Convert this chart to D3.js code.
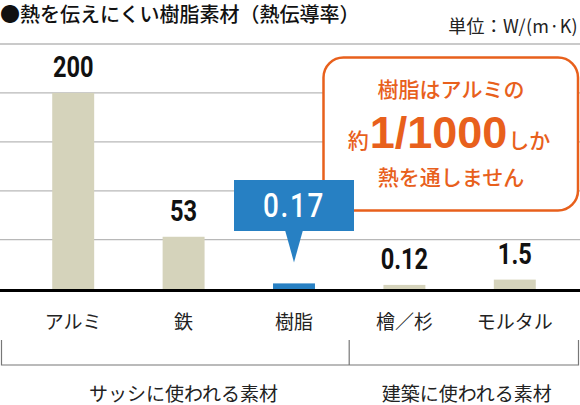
<!DOCTYPE html>
<html>
<head>
<meta charset="utf-8">
<script src="https://cdn.jsdelivr.net/npm/d3@7"></script>
<style>
  body { margin: 0; background: #fff; }
  text { font-family: "Noto Sans CJK JP", "Noto Sans", sans-serif; }
  .num { font-family: "Roboto", "Liberation Sans", sans-serif; font-weight: bold; }
</style>
</head>
<body>
<div id="graph-section"></div>
<script>
// chart data
const categories = ["アルミ", "鉄", "樹脂", "檜／杉", "モルタル"];
const values = [200, 53, 0.17, 0.12, 1.5];
const valueLabels = ["200", "53", "0.17", "0.12", "1.5"];
const highlight = "樹脂";
const yTicks = [50, 100, 150, 200, 250];
const groupNames = ["サッシに使われる素材", "建築に使われる素材"];
const groupSizes = [3, 2];
const titleText = "●熱を伝えにくい樹脂素材（熱伝導率）";
const unitText = "単位：W/(m·K)";
const noteLines = ["樹脂はアルミの", "熱を通しません"];
const notePieces = ["約", "1/1000", "しか"];

let svgWidth = 580;
let svgHeight = 405;
let baseY = 289;

let beige = "#d5d3bb";
let blue = "#2780c3";
let orange = "#e8601c";

let svg = d3.select("#graph-section")
    .append("svg")
    .attr("width", svgWidth)
    .attr("height", svgHeight);

let rows = categories.map((c, i) => ({ name: c, value: values[i], label: valueLabels[i] }));

let x = d3.scaleBand()
    .domain(categories)
    .range([18, 570])
    .paddingInner(0.62)
    .paddingOuter(0.31);

// low end is stretched so the tiny values stay visible
let y = d3.scaleLinear()
    .domain([0, 0.1, 0.2, 2, 50, 250])
    .range([baseY, baseY - 3.5, baseY - 6.5, baseY - 10.5, baseY - 49.3, 44]);

// gridlines
svg.append("g")
    .selectAll("line")
    .data(yTicks)
    .enter().append("line")
    .attr("x1", 0)
    .attr("x2", svgWidth)
    .attr("y1", d => y(d))
    .attr("y2", d => y(d))
    .style("stroke", "#b8b8b8")
    .style("stroke-width", 1.3);

// orange note box
let note = svg.append("g");
note.append("rect")
    .attr("x", 323.5)
    .attr("y", 57.5)
    .attr("width", 254.5)
    .attr("height", 153)
    .attr("rx", 20)
    .style("fill", "#fff")
    .style("stroke", orange)
    .style("stroke-width", 2.5);

let noteX = 451;
note.append("text")
    .attr("x", noteX).attr("y", 88)
    .attr("text-anchor", "middle")
    .attr("dominant-baseline", "central")
    .style("font-size", "21px")
    .style("font-weight", 500)
    .style("fill", orange)
    .text(noteLines[0]);

let mid = note.append("text")
    .attr("x", noteX - 2).attr("y", 148)
    .attr("text-anchor", "middle")
    .style("fill", orange);
mid.append("tspan").style("font-size", "21px").style("font-weight", 500).text(notePieces[0]);
mid.append("tspan")
    .style("font-family", "'Liberation Sans', Arial, sans-serif")
    .style("font-weight", "bold")
    .style("font-size", "45px")
    .attr("dx", 1)
    .text(notePieces[1]);
mid.append("tspan").style("font-size", "21px").style("font-weight", 500).attr("dx", 1).text(notePieces[2]);

note.append("text")
    .attr("x", noteX).attr("y", 176)
    .attr("text-anchor", "middle")
    .attr("dominant-baseline", "central")
    .style("font-size", "21px")
    .style("font-weight", 500)
    .style("fill", orange)
    .text(noteLines[1]);

// bars
svg.append("g")
    .selectAll("rect")
    .data(rows)
    .enter().append("rect")
    .attr("x", d => x(d.name))
    .attr("y", d => y(d.value))
    .attr("width", x.bandwidth())
    .attr("height", d => baseY - y(d.value))
    .style("fill", d => d.name == highlight ? blue : beige);

// value labels (condensed look via horizontal squeeze)
svg.append("g")
    .selectAll("text")
    .data(rows.filter(d => d.name != highlight))
    .enter().append("text")
    .attr("class", "num")
    .attr("transform", d => `translate(${x(d.name) + x.bandwidth() / 2},${Math.min(y(d.value) - 16, 272)}) scale(0.8,1)`)
    .attr("text-anchor", "middle")
    .style("font-size", "29.5px")
    .style("fill", "#111")
    .text(d => d.label);

// callout for the highlighted bar
let hiRow = rows.find(d => d.name == highlight);
let cx = x(highlight) + x.bandwidth() / 2;
let call = svg.append("g");
call.append("rect")
    .attr("x", cx - 60)
    .attr("y", 180)
    .attr("width", 120)
    .attr("height", 51)
    .style("fill", blue);
call.append("path")
    .attr("d", `M${cx - 9},230 L${cx + 9},230 L${cx},${y(hiRow.value) - 21}Z`)
    .style("fill", blue);
call.append("text")
    .attr("class", "num")
    .attr("transform", `translate(${cx},217) scale(0.82,1)`)
    .attr("text-anchor", "middle")
    .style("font-size", "34px")
    .style("font-weight", 500)
    .style("letter-spacing", "2px")
    .style("fill", "#fff")
    .text(hiRow.label);

// baseline
svg.append("line")
    .attr("x1", 0).attr("x2", svgWidth)
    .attr("y1", baseY + 1.5).attr("y2", baseY + 1.5)
    .style("stroke", "#000")
    .style("stroke-width", 3);

// category labels
svg.append("g")
    .selectAll("text")
    .data(categories)
    .enter().append("text")
    .attr("x", d => x(d) + x.bandwidth() / 2)
    .attr("y", 320)
    .attr("text-anchor", "middle")
    .attr("dominant-baseline", "central")
    .style("font-size", "19px")
    .style("fill", "#222")
    .text(d => d);

// group brackets
let left = 1.5, right = 578.5;
let splits = [left];
let k = 0;
groupSizes.forEach(n => {
    k += n;
    if (k < categories.length) {
        let a = x(categories[k - 1]) + x.bandwidth();
        let b = x(categories[k]);
        splits.push((a + b) / 2);
    }
});
splits.push(right);

svg.append("path")
    .attr("d", `M${left},340 V365 H${right} V340`)
    .style("fill", "none")
    .style("stroke", "#777")
    .style("stroke-width", 1.2);
splits.slice(1, -1).forEach(s => {
    svg.append("line")
        .attr("x1", s).attr("x2", s)
        .attr("y1", 340).attr("y2", 365)
        .style("stroke", "#777")
        .style("stroke-width", 1.2);
});

k = 0;
groupNames.forEach((name, gi) => {
    let first = categories[k];
    let last = categories[k + groupSizes[gi] - 1];
    k += groupSizes[gi];
    let gx = gi == 0
        ? (x(first) + x(last) + x.bandwidth()) / 2
        : (splits[gi] + splits[gi + 1]) / 2 + 3;
    svg.append("text")
        .attr("x", gx)
        .attr("y", 392)
        .attr("text-anchor", "middle")
        .attr("dominant-baseline", "central")
        .style("font-size", "19px")
        .style("fill", "#222")
        .text(name);
});

// title and unit
svg.append("text")
    .attr("x", 0).attr("y", 13)
    .attr("dominant-baseline", "central")
    .style("font-size", "20px")
    .style("font-weight", 500)
    .style("fill", "#111")
    .text(titleText);

svg.append("text")
    .attr("x", 578).attr("y", 25)
    .attr("text-anchor", "end")
    .attr("dominant-baseline", "central")
    .style("font-size", "18px")
    .style("letter-spacing", "0.3px")
    .style("fill", "#222")
    .text(unitText);
</script>
</body>
</html>
